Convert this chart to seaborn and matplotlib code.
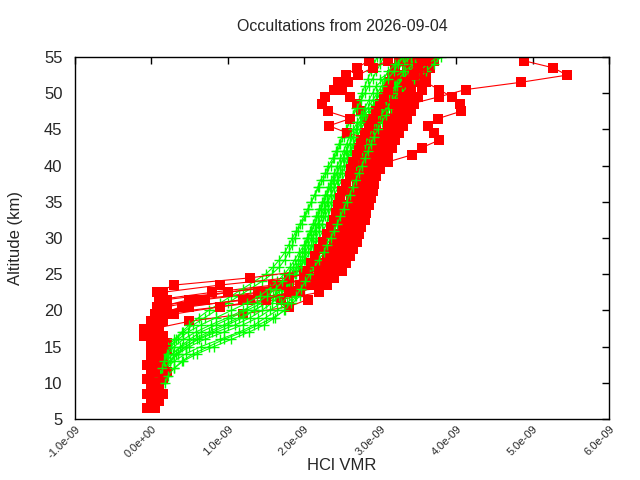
import matplotlib
matplotlib.use('Agg')
import matplotlib.pyplot as plt
import seaborn as sns
import pandas as pd

# altitude grids (km)
red_alt = [6.5 + i for i in range(49)]   # 6.5 ... 54.5
green_alt = [10 + i for i in range(46)]  # 10 ... 55

# HCl VMR in units of 1e-9, listed from the lowest level of each profile upward
red_profiles = [
    [0.0, 0.05, 0.02, 0.08, 0.05, 0.1, 0.03, 0.0, 0.06, 0.1, 0.05, 0.02, 0.08, 0.1,
     0.9, 1.7, 2.2, 2.3, 2.35, 2.4, 2.42, 2.45, 2.5, 2.52, 2.55, 2.58, 2.6, 2.62, 2.63,
     2.65, 2.68, 2.7, 2.72, 2.75, 2.78, 2.8, 2.85, 2.88, 2.9, 2.95, 3.0, 3.05, 3.1, 3.15, 3.2, 3.25, 3.3, 3.35, 3.4],
    [0.05, 0.1, 0.15, 0.08, 0.12, 0.05, 0.1, 0.15, 0.08, 0.12, 0.05, 0.0, 0.1, 0.05, 0.08,
     0.6, 1.4, 2.0, 2.2, 2.3, 2.35, 2.4, 2.45, 2.5, 2.52, 2.55, 2.6, 2.62, 2.65,
     2.7, 2.72, 2.75, 2.8, 2.85, 2.9, 2.95, 3.0, 3.05, 3.1, 3.15, 3.2, 3.25, 3.3, 3.35, 3.4, 3.45, 3.5, 3.55, 3.6],
    [-0.05, 0.0, 0.05, 0.0, -0.05, 0.02, 0.05, 0.0, -0.1, 0.05,
     0.5, 1.2, 1.8, 2.05, 1.95, 2.2, 2.1, 2.3, 2.2, 2.4, 2.3, 2.45, 2.35, 2.5, 2.42, 2.6, 2.5,
     2.65, 2.55, 2.75, 2.65, 2.85, 2.75, 2.9, 2.8, 3.0, 2.9, 3.1, 3.0, 3.2, 3.05, 3.25, 3.15, 3.35, 3.2, 3.4, 3.3],
    [0.1, 0.15, 0.12, 0.08, 0.1, 0.15, 0.2, 0.12, 0.1, 0.15, 0.05, 0.1, 0.2,
     1.0, 1.8, 2.4, 2.5, 2.55, 2.6, 2.65, 2.7, 2.72, 2.75, 2.8, 2.82, 2.85,
     2.88, 2.9, 2.92, 2.95, 3.0, 3.05, 3.1, 3.15, 3.2, 3.25, 3.3, 3.35, 3.4, 3.45, 3.5, 3.55, 3.5, 3.6, 3.65, 3.7],
    [0.02, 0.0, 0.05, 0.1, 0.08, 0.02, 0.0, 0.05, 0.1, 0.12, 0.08, 0.05, 0.1,
     0.4, 1.3, 1.9, 2.05, 2.15, 2.2, 2.25, 2.3, 2.35, 2.4, 2.45, 2.5, 2.52, 2.55, 2.6,
     2.62, 2.65, 2.7, 2.75, 2.8, 2.85, 2.9, 3.0, 3.1, 3.0, 2.9, 2.8, 2.75, 2.7, 2.6, 2.5, 2.45, 2.55, 2.7, 2.85],
    [0.05, 0.1, 0.12, 0.15, 0.1, 0.05, 0.08, 0.12, 0.1, 0.05, 0.1, 0.15, 0.2,
     0.7, 1.5, 2.1, 2.3, 2.4, 2.45, 2.5, 2.55, 2.6, 2.65, 2.7, 2.72, 2.75, 2.8,
     2.82, 2.85, 2.9, 2.95, 3.0, 3.05, 3.1, 3.15, 3.2, 3.25, 3.2, 3.3, 3.25, 3.4, 3.77, 4.12, 4.84, 5.45, 5.27, 4.88],
    [0.0, 0.05, 0.1, 0.05, 0.0, 0.08, 0.12, 0.05, 0.1, 0.05, 0.15, 0.1,
     0.8, 1.6, 2.1, 2.3, 2.4, 2.45, 2.5, 2.55, 2.6, 2.65, 2.7, 2.72, 2.75,
     2.8, 2.85, 2.9, 2.95, 3.0, 3.1, 3.42, 3.55, 3.77, 3.71, 3.63, 3.76, 4.06, 4.05, 3.94, 3.77, 3.6, 3.5, 3.55, 3.6],
    [0.1, 0.05, 0.0, -0.05, 0.02, 0.05, 0.0, 0.03, 0.05, -0.05, 0.0, 0.05, 0.1,
     0.5, 1.2, 1.9, 2.1, 2.2, 2.25, 2.3, 2.35, 2.4, 2.42, 2.45, 2.5, 2.55, 2.6, 2.65,
     2.7, 2.72, 2.75, 2.78, 2.8, 2.85, 2.9, 2.92, 2.95, 2.57, 2.33, 2.61, 2.31, 2.24, 2.28, 2.39, 2.58, 2.71, 2.9, 3.1],
    [0.15, 0.1, 0.2, 0.15, 0.1, 0.05, 0.12, 0.18, 0.1, 0.15, 0.08, 0.3,
     1.3, 2.0, 2.35, 2.5, 2.4, 2.6, 2.5, 2.7, 2.6, 2.75, 2.65,
     2.8, 2.7, 2.9, 2.8, 2.95, 2.85, 3.05, 2.95, 3.15, 3.05, 3.25, 3.1, 3.3, 3.2, 3.4, 3.3, 3.5, 3.4, 3.55, 3.5],
    [-0.05, 0.0, 0.05, 0.1, 0.05, 0.0, -0.05, 0.0, 0.05, 0.08, 0.0, -0.1, 0.0,
     0.3, 0.9, 1.5, 1.8, 1.95, 2.0, 2.05, 2.1, 2.15, 2.2, 2.25, 2.3, 2.35, 2.4, 2.42, 2.45,
     2.48, 2.5, 2.55, 2.6, 2.62, 2.65, 2.7, 2.72, 2.75, 2.8, 2.85, 2.9, 2.95, 3.0, 3.05, 3.1, 3.12, 3.15, 3.2, 3.25],
    [0.1, 0.15, 0.2, 0.1, 0.05, 0.1, 0.15, 0.12, 0.08, 0.05, 0.1, 0.12,
     0.5, 1.0, 1.7, 2.1, 2.3, 2.2, 2.45, 2.35, 2.55, 2.45, 2.7, 2.55, 2.8, 2.65,
     2.72, 2.75, 2.8, 2.82, 2.85, 2.9, 2.95, 3.0, 3.05, 3.1, 3.15, 3.2, 3.2, 3.25, 3.3, 3.35, 3.4, 3.45, 3.5, 3.55],
    [0.05, 0.0, 0.1, 0.05, 0.1, 0.15, 0.0, 0.05, 0.1, 0.08, 0.12, 0.15,
     0.9, 1.8, 2.2, 2.3, 2.4, 2.45, 2.5, 2.55, 2.6, 2.65, 2.7, 2.75,
     2.78, 2.8, 2.82, 2.85, 2.9, 2.95, 3.0, 3.05, 3.1, 3.15, 3.1, 3.2, 3.25, 3.2, 3.3, 3.4, 3.35, 3.45, 3.5, 3.6],
]

green_profiles = [
    [0.15, 0.2, 0.3, 0.4, 0.55, 0.75, 0.95, 1.2, 1.4, 1.6,
     1.75, 1.85, 1.95, 2.0, 2.05, 2.08, 2.12, 2.15, 2.2, 2.25,
     2.3, 2.33, 2.37, 2.4, 2.45, 2.5, 2.53, 2.57, 2.6, 2.64,
     2.68, 2.72, 2.76, 2.8, 2.85, 2.9, 2.94, 2.98, 3.02, 3.07,
     3.12, 3.18, 3.25, 3.32, 3.4, 3.48],
    [0.1, 0.12, 0.14, 0.16, 0.2, 0.25, 0.32, 0.42, 0.55, 0.7,
     0.85, 1.0, 1.15, 1.3, 1.45, 1.58, 1.68, 1.75, 1.8, 1.85,
     1.88, 1.92, 1.97, 2.02, 2.06, 2.1, 2.14, 2.2, 2.25, 2.3,
     2.35, 2.4, 2.44, 2.48, 2.52, 2.56, 2.6, 2.64, 2.68, 2.72,
     2.76, 2.8, 2.84, 2.88, 2.92, 2.96],
    [0.15, 0.18, 0.25, 0.35, 0.5, 0.7, 0.95, 1.2, 1.4,
     1.55, 1.7, 1.8, 1.9, 1.95, 2.0, 2.05, 2.1, 2.12, 2.15,
     2.2, 2.25, 2.3, 2.32, 2.35, 2.4, 2.45, 2.5, 2.55, 2.6,
     2.62, 2.66, 2.7, 2.75, 2.8, 2.82, 2.88, 2.95, 3.0, 3.05,
     3.1, 3.2, 3.3, 3.45, 3.55, 3.7],
    [0.12, 0.15, 0.2, 0.25, 0.35, 0.45, 0.6, 0.8, 1.0, 1.2,
     1.35, 1.5, 1.62, 1.72, 1.8, 1.88, 1.95, 2.0, 2.05, 2.1,
     2.12, 2.16, 2.2, 2.25, 2.28, 2.32, 2.36, 2.4, 2.45, 2.5,
     2.55, 2.58, 2.62, 2.66, 2.7, 2.75, 2.8, 2.85, 2.9, 2.95,
     3.0, 3.05, 3.1, 3.2, 3.3, 3.35],
    [0.1, 0.12, 0.15, 0.2, 0.28, 0.38, 0.5, 0.65, 0.85, 1.05,
     1.25, 1.45, 1.6, 1.7, 1.78, 1.85, 1.9, 1.95, 2.0, 2.02,
     2.05, 2.1, 2.15, 2.18, 2.22, 2.26, 2.3, 2.35, 2.4, 2.44,
     2.48, 2.52, 2.56, 2.6, 2.65, 2.7, 2.75, 2.8, 2.88, 2.95,
     3.0, 3.1, 3.0, 3.15, 3.3, 3.4],
    [0.2, 0.3, 0.45, 0.65, 0.9, 1.15, 1.35, 1.5,
     1.65, 1.78, 1.88, 1.95, 2.0, 2.05, 2.1, 2.15, 2.2, 2.22,
     2.26, 2.3, 2.35, 2.38, 2.42, 2.46, 2.5, 2.55, 2.58, 2.62,
     2.66, 2.7, 2.75, 2.8, 2.85, 2.9, 2.95, 3.0, 3.1, 3.15,
     3.25, 3.35, 3.5, 3.6, 3.7, 3.8],
    [0.1, 0.1, 0.12, 0.15, 0.18, 0.22, 0.3, 0.4, 0.5, 0.62,
     0.75, 0.9, 1.05, 1.2, 1.35, 1.5, 1.6, 1.68, 1.75, 1.8,
     1.85, 1.9, 1.95, 2.0, 2.05, 2.1, 2.15, 2.18, 2.22, 2.28,
     2.32, 2.38, 2.42, 2.46, 2.5, 2.55, 2.6, 2.65, 2.7, 2.75,
     2.8, 2.85, 2.9, 2.95, 3.0, 3.05],
    [0.12, 0.15, 0.2, 0.28, 0.4, 0.55, 0.75, 0.95, 1.15,
     1.35, 1.5, 1.62, 1.72, 1.8, 1.86, 1.92, 1.98, 2.02, 2.06,
     2.1, 2.14, 2.18, 2.22, 2.26, 2.3, 2.35, 2.4, 2.44, 2.48,
     2.52, 2.56, 2.6, 2.65, 2.7, 2.74, 2.8, 2.85, 2.92, 3.0,
     3.1, 3.2, 3.15, 3.3, 3.45, 3.6],
    [0.12, 0.14, 0.18, 0.24, 0.32, 0.45, 0.62, 0.85, 1.1, 1.3,
     1.45, 1.58, 1.68, 1.76, 1.84, 1.9, 1.96, 2.02, 2.08, 2.12,
     2.16, 2.2, 2.24, 2.28, 2.32, 2.36, 2.4, 2.45, 2.5, 2.55,
     2.6, 2.64, 2.68, 2.72, 2.78, 2.84, 2.9, 2.96, 3.02, 3.08,
     3.15, 3.22, 3.3, 3.38, 3.46, 3.55],
    [0.1, 0.12, 0.15, 0.2, 0.26, 0.35, 0.48, 0.65, 0.85,
     1.05, 1.25, 1.42, 1.55, 1.65, 1.74, 1.82, 1.88, 1.94, 2.0,
     2.04, 2.08, 2.12, 2.16, 2.2, 2.24, 2.28, 2.32, 2.36, 2.4,
     2.44, 2.48, 2.52, 2.56, 2.6, 2.65, 2.7, 2.75, 2.8, 2.85,
     2.9, 2.95, 3.05, 3.1, 3.2, 3.3],
    [0.18, 0.22, 0.3, 0.42, 0.6, 0.82, 1.05, 1.28, 1.48, 1.62,
     1.74, 1.83, 1.9, 1.96, 2.02, 2.08, 2.14, 2.2, 2.26, 2.3,
     2.35, 2.4, 2.44, 2.48, 2.52, 2.56, 2.6, 2.64, 2.68, 2.72,
     2.76, 2.8, 2.84, 2.88, 2.92, 2.97, 3.02, 3.08, 3.14, 3.2,
     3.28, 3.36, 3.44, 3.5, 3.62, 3.75],
    [0.14, 0.17, 0.22, 0.3, 0.42, 0.58, 0.78, 1.0,
     1.2, 1.38, 1.52, 1.63, 1.72, 1.8, 1.86, 1.92, 1.97, 2.02,
     2.06, 2.1, 2.14, 2.18, 2.22, 2.26, 2.3, 2.34, 2.38, 2.43,
     2.47, 2.51, 2.55, 2.6, 2.64, 2.68, 2.73, 2.78, 2.84, 2.9,
     2.96, 3.02, 3.1, 3.18, 3.24, 3.3],
]

x_ticks = [-1e-9, 0, 1e-9, 2e-9, 3e-9, 4e-9, 5e-9, 6e-9]
y_ticks = [5, 10, 15, 20, 25, 30, 35, 40, 45, 50, 55]


def profile_frame(vals, grid):
    # profiles that start higher are shorter: align them to the top of the grid
    alt = grid[len(grid) - len(vals):]
    return pd.DataFrame({'vmr': [v * 1e-9 for v in vals], 'alt': alt})


sns.set_style('white')
plt.rcParams['font.family'] = ['Liberation Sans', 'DejaVu Sans']

fig = plt.figure(figsize=(6.4, 4.8), dpi=100)
ax = fig.add_axes([75 / 640, 61 / 480, 534 / 640, 362 / 480])

n = max(len(red_profiles), len(green_profiles))
for i in range(n):
    if i < len(red_profiles):
        sns.lineplot(data=profile_frame(red_profiles[i], red_alt), x='vmr', y='alt',
                     sort=False, estimator=None, color='#ff0000', lw=0.8,
                     marker='s', markersize=7.5, markeredgewidth=0, ax=ax)
    if i < len(green_profiles):
        sns.lineplot(data=profile_frame(green_profiles[i], green_alt), x='vmr', y='alt',
                     sort=False, estimator=None, color='#00ff00', lw=0.8,
                     marker='+', markersize=6.5, markeredgewidth=1.0,
                     markeredgecolor='#00ff00', ax=ax)

ax.set_xlim(-1e-9, 6e-9)
ax.set_ylim(5, 55)
ax.set_xticks(x_ticks)
ax.set_xticklabels(['%.1e' % t for t in x_ticks], rotation=45, ha='right',
                   rotation_mode='anchor', fontsize=8)
ax.set_yticks(y_ticks)
ax.tick_params(axis='y', labelsize=12, pad=9)
ax.tick_params(direction='in', length=5, width=1, top=True, right=True, color='black')
for s in ax.spines.values():
    s.set_visible(True)
    s.set_color('black')
    s.set_linewidth(1)
ax.set_xlabel('HCl VMR', fontsize=12)
ax.set_ylabel('Altitude (km)', fontsize=12)
ax.yaxis.set_label_coords(-0.097, 0.5)
ax.xaxis.set_label_coords(0.5, -0.108)
ax.set_title('Occultations from 2026-09-04', fontsize=11.5, pad=19)

fig.savefig('out.png', dpi=100)
